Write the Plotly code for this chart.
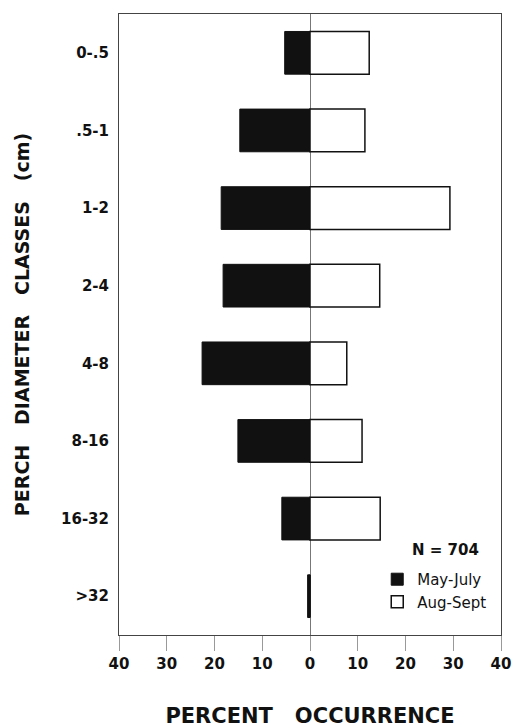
import plotly.graph_objects as go

categories = ["0-.5", ".5-1", "1-2", "2-4", "4-8", "8-16", "16-32", ">32"]
may_july = [5.3, 14.7, 18.6, 18.2, 22.6, 15.1, 5.9, 0.5]
aug_sept = [12.4, 11.5, 29.3, 14.6, 7.7, 10.9, 14.7, 0.0]
x_tick_vals = [-40, -30, -20, -10, 0, 10, 20, 30, 40]
x_tick_text = ["40", "30", "20", "10", "0", "10", "20", "30", "40"]
n_label = "N = 704"

FONT = "DejaVu Sans"
INK = "#111111"

fig = go.Figure()
fig.add_trace(go.Bar(
    name="May-July", y=categories, x=[-v for v in may_july], orientation="h",
    marker=dict(color=INK, line=dict(color=INK, width=1)), width=0.55,
    legendgroup="a",
))
fig.add_trace(go.Bar(
    name="Aug-Sept", y=categories, x=aug_sept, orientation="h",
    marker=dict(color="white", line=dict(color=INK, width=1.5)), width=0.55,
    legendgroup="b",
))

fig.update_layout(
    width=513, height=728,
    margin=dict(l=119, r=12, t=14, b=93),
    paper_bgcolor="white", plot_bgcolor="white",
    barmode="relative",
    font=dict(family=FONT, color=INK),
    showlegend=True,
    legend=dict(
        x=0.676, y=0.116, xanchor="left", yanchor="top",
        font=dict(family=FONT, size=15, color=INK),
        bgcolor="rgba(0,0,0,0)", itemwidth=30, tracegroupgap=21,
        traceorder="normal",
    ),
    annotations=[dict(
        text=n_label, xref="paper", yref="paper", x=0.856, y=0.137,
        xanchor="center", yanchor="middle",
        showarrow=False, font=dict(family=FONT, size=15, color=INK, weight="bold"),
    )],
)

fig.update_xaxes(
    range=[-40, 40], tickvals=x_tick_vals, ticktext=x_tick_text,
    showgrid=False, zeroline=True, zerolinecolor="#777777", zerolinewidth=1,
    showline=True, mirror=True, linecolor="#444444", linewidth=1,
    ticks="outside", ticklen=15, tickcolor="#999999", tickwidth=1,
    tickfont=dict(family=FONT, size=15, color=INK, weight="bold"),
    title=dict(text="PERCENT\u00a0\u00a0 OCCURRENCE", standoff=49,
               font=dict(family=FONT, size=21, color=INK, weight="bold")),
    automargin=False,
)
fig.update_yaxes(
    range=[7.5, -0.5], showgrid=False,
    showline=True, mirror=True, linecolor="#444444", linewidth=1,
    ticks="", ticklabelstandoff=6,
    tickfont=dict(family=FONT, size=15, color=INK, weight="bold"),
    title=dict(text="PERCH\u00a0\u00a0 DIAMETER\u00a0\u00a0 CLASSES\u00a0\u00a0 (cm)", standoff=26,
               font=dict(family=FONT, size=19, color=INK, weight="bold")),
    automargin=False,
)

# remove the default page margin so the figure sits at the window's top-left corner
fig.write_html(
    "out.html",
    config={"displayModeBar": False},
    post_script="document.body.style.margin='0';document.documentElement.style.overflow='hidden';",
)
